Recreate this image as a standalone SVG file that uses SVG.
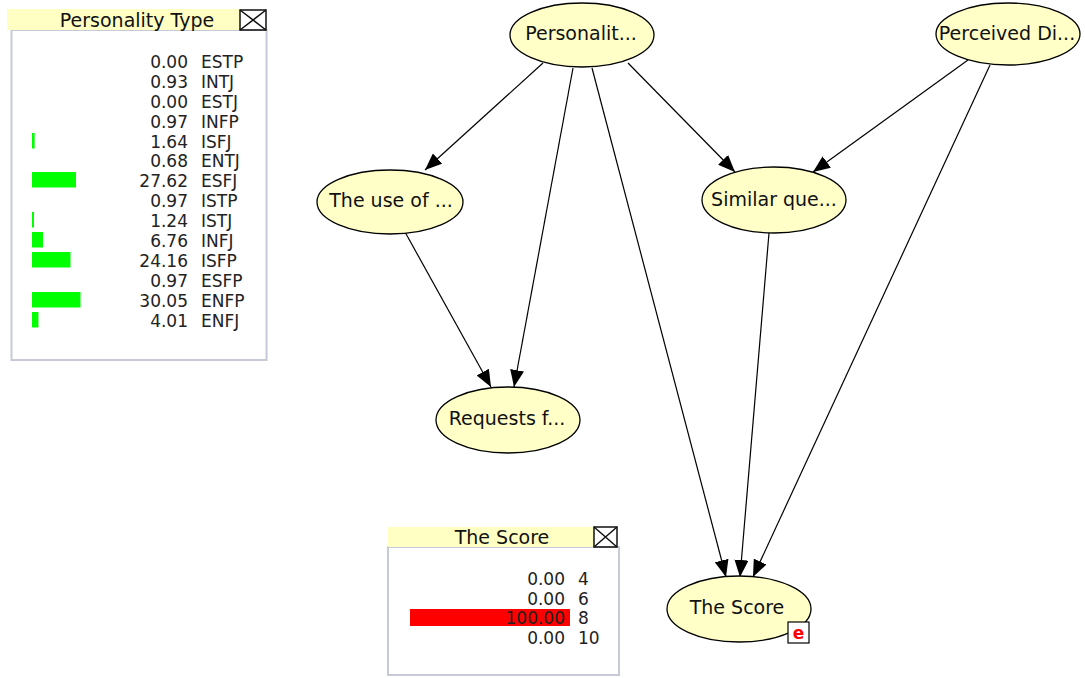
<svg xmlns="http://www.w3.org/2000/svg" width="1085" height="678" viewBox="0 0 1085 678">
<style>
.bg{fill:#ffffff}
.node ellipse{fill:#FFFFC8;stroke:#000;stroke-width:1.3}
.node text{font-family:"DejaVu Sans",Verdana,sans-serif;font-size:19px;fill:#111;text-anchor:middle}
.frame{fill:#fff;stroke:#C6CAD6;stroke-width:2}
.tbar{fill:#FFFFC4}
.ttl{font-family:"DejaVu Sans",Verdana,sans-serif;font-size:19px;fill:#111;text-anchor:middle}
.cls{fill:none;stroke:#111;stroke-width:1.5}
.num{font-family:"DejaVu Sans",Verdana,sans-serif;font-size:17px;fill:#222;text-anchor:end}
.lbl{font-family:"DejaVu Sans",Verdana,sans-serif;font-size:17px;fill:#222}
.g{fill:#00FF00}
.r{fill:#FF0000}
#edges line{stroke:#000;stroke-width:1.2;marker-end:url(#ah)}
</style>
<defs>
<marker id="ah" markerUnits="userSpaceOnUse" markerWidth="17" markerHeight="14" refX="17" refY="7" orient="auto">
<path d="M0,0 L17,7 L0,14 z" fill="#000"/>
</marker>
</defs>
<rect class="bg" x="0" y="0" width="1085" height="678"/>

<g id="panel-personality">
<rect class="frame" x="11.5" y="30" width="255" height="330"/>
<rect class="tbar" x="7" y="9" width="232" height="21"/>
<text class="ttl" x="137" y="27">Personality Type</text>
<rect class="cls" x="240" y="10" width="26" height="20"/>
<path class="cls" d="M240,10 L266,30 M266,10 L240,30"/>
<rect class="g" x="32" y="133" width="2.6" height="15.5"/>
<rect class="g" x="32" y="172" width="44" height="15.5"/>
<rect class="g" x="32" y="212" width="2" height="15.5"/>
<rect class="g" x="32" y="232" width="11" height="15.5"/>
<rect class="g" x="32" y="252" width="38.5" height="15.5"/>
<rect class="g" x="32" y="292" width="48.5" height="15.5"/>
<rect class="g" x="32" y="312" width="6.4" height="15.5"/>
<text class="num" x="188" y="68">0.00</text><text class="lbl" x="201" y="68">ESTP</text>
<text class="num" x="188" y="88">0.93</text><text class="lbl" x="201" y="88">INTJ</text>
<text class="num" x="188" y="108">0.00</text><text class="lbl" x="201" y="108">ESTJ</text>
<text class="num" x="188" y="128">0.97</text><text class="lbl" x="201" y="128">INFP</text>
<text class="num" x="188" y="148">1.64</text><text class="lbl" x="201" y="148">ISFJ</text>
<text class="num" x="188" y="167">0.68</text><text class="lbl" x="201" y="167">ENTJ</text>
<text class="num" x="188" y="187">27.62</text><text class="lbl" x="201" y="187">ESFJ</text>
<text class="num" x="188" y="207">0.97</text><text class="lbl" x="201" y="207">ISTP</text>
<text class="num" x="188" y="227">1.24</text><text class="lbl" x="201" y="227">ISTJ</text>
<text class="num" x="188" y="247">6.76</text><text class="lbl" x="201" y="247">INFJ</text>
<text class="num" x="188" y="267">24.16</text><text class="lbl" x="201" y="267">ISFP</text>
<text class="num" x="188" y="287">0.97</text><text class="lbl" x="201" y="287">ESFP</text>
<text class="num" x="188" y="307">30.05</text><text class="lbl" x="201" y="307">ENFP</text>
<text class="num" x="188" y="327">4.01</text><text class="lbl" x="201" y="327">ENFJ</text>
</g>

<g id="panel-score">
<rect class="frame" x="388" y="547" width="231" height="128"/>
<rect class="tbar" x="388" y="527" width="206" height="20"/>
<text class="ttl" x="502" y="544">The Score</text>
<rect class="cls" x="594" y="527" width="23" height="20"/>
<path class="cls" d="M594,527 L617,547 M617,527 L594,547"/>
<rect class="r" x="410" y="609" width="160" height="17"/>
<text class="num" x="565" y="585">0.00</text><text class="lbl" x="578" y="585">4</text>
<text class="num" x="565" y="605">0.00</text><text class="lbl" x="578" y="605">6</text>
<text class="num" x="565" y="624">100.00</text><text class="lbl" x="578" y="624">8</text>
<text class="num" x="565" y="644">0.00</text><text class="lbl" x="578" y="644">10</text>
</g>

<g id="edges">
<line x1="543" y1="63" x2="425" y2="170"/>
<line x1="573" y1="68" x2="514" y2="387"/>
<line x1="592" y1="68" x2="726" y2="577"/>
<line x1="628" y1="63" x2="735" y2="172"/>
<line x1="968" y1="60" x2="813" y2="172"/>
<line x1="990" y1="65" x2="753" y2="577"/>
<line x1="405" y1="232" x2="491" y2="387"/>
<line x1="769" y1="233" x2="740" y2="577"/>
</g>

<g id="node-personality" class="node">
<ellipse cx="582" cy="35" rx="72" ry="32"/>
<text x="581" y="40">Personalit...</text>
</g>
<g id="node-perceived" class="node">
<ellipse cx="1008" cy="34" rx="72" ry="31"/>
<text x="1007" y="40">Perceived Di...</text>
</g>
<g id="node-useof" class="node">
<ellipse cx="390" cy="202" rx="73" ry="32"/>
<text x="391" y="207">The use of ...</text>
</g>
<g id="node-similar" class="node">
<ellipse cx="774" cy="200" rx="72" ry="33"/>
<text x="774" y="206">Similar que...</text>
</g>
<g id="node-requests" class="node">
<ellipse cx="508" cy="420" rx="72" ry="33"/>
<text x="507" y="425">Requests f...</text>
</g>
<g id="node-score" class="node">
<ellipse cx="739" cy="609" rx="72" ry="33"/>
<text x="737" y="614">The Score</text>
<rect x="788" y="622" width="21" height="21" fill="#fff" stroke="#000" stroke-width="1.2"/>
<text x="798.5" y="639" style="font-size:17px;font-weight:bold;fill:#FF0000">e</text>
</g>
</svg>
